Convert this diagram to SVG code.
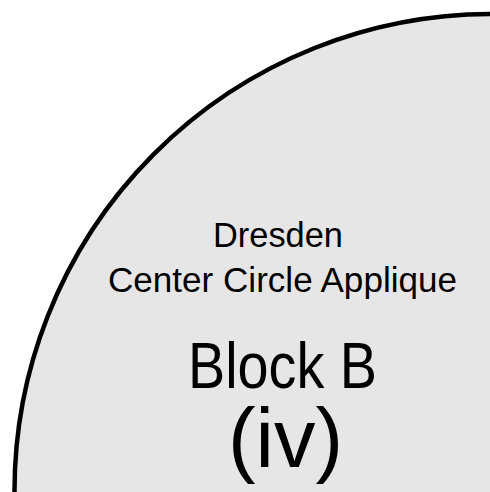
<svg xmlns="http://www.w3.org/2000/svg" width="490" height="492" viewBox="0 0 490 492">
<style>
.t{font-family:"Liberation Sans",Arial,sans-serif;fill:#000;text-anchor:middle}
</style>
<rect width="490" height="492" fill="#fff"/>
<g id="quarter">
<path d="M490,14 A477,477 0 0 0 14.5,492 L490,492 Z" fill="#e6e6e6" stroke="none"/>
<path d="M490,14 A477,477 0 0 0 14.5,492" fill="none" stroke="#000" stroke-width="4.5"/>
</g>
<g id="labels">
<text class="t" x="278" y="247" font-size="35" textLength="130" lengthAdjust="spacingAndGlyphs">Dresden</text>
<text class="t" x="282.5" y="292" font-size="35" textLength="349" lengthAdjust="spacingAndGlyphs">Center Circle Applique</text>
<text class="t" x="282.5" y="388" font-size="64" textLength="189" lengthAdjust="spacingAndGlyphs">Block B</text>
<text class="t" x="285.5" y="467" font-size="84" textLength="115" lengthAdjust="spacingAndGlyphs">(iv)</text>
</g>
</svg>
